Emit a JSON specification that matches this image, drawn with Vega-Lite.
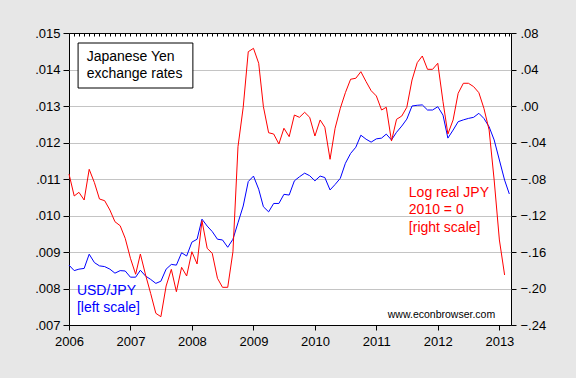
{
  "$schema": "https://vega.github.io/schema/vega-lite/v6.json",
  "width": 442,
  "height": 292,
  "autosize": {"type": "none"},
  "padding": {"left": 69, "top": 33, "right": 65, "bottom": 53},
  "background": "#e7e7e7",
  "config": {
    "view": {"fill": "white", "stroke": "black", "strokeWidth": 1},
    "axis": {"labelFont": "Liberation Sans", "labelFontSize": 13, "labelColor": "#000", "tickColor": "#000", "title": null}
  },
  "data": {
    "values": [
      {"date": "2006/01/01", "usd": 0.00864, "jpy": -0.0745},
      {"date": "2006/02/01", "usd": 0.00849, "jpy": -0.0986},
      {"date": "2006/03/01", "usd": 0.00853, "jpy": -0.0946},
      {"date": "2006/04/01", "usd": 0.00855, "jpy": -0.103},
      {"date": "2006/05/01", "usd": 0.00894, "jpy": -0.0694},
      {"date": "2006/06/01", "usd": 0.00871, "jpy": -0.084},
      {"date": "2006/07/01", "usd": 0.00862, "jpy": -0.1019},
      {"date": "2006/08/01", "usd": 0.0086, "jpy": -0.1038},
      {"date": "2006/09/01", "usd": 0.00853, "jpy": -0.114},
      {"date": "2006/10/01", "usd": 0.00842, "jpy": -0.1268},
      {"date": "2006/11/01", "usd": 0.00849, "jpy": -0.1312},
      {"date": "2006/12/01", "usd": 0.00848, "jpy": -0.145},
      {"date": "2007/01/01", "usd": 0.00831, "jpy": -0.1669},
      {"date": "2007/02/01", "usd": 0.00831, "jpy": -0.1844},
      {"date": "2007/03/01", "usd": 0.0085, "jpy": -0.1622},
      {"date": "2007/04/01", "usd": 0.00834, "jpy": -0.1852},
      {"date": "2007/05/01", "usd": 0.00825, "jpy": -0.2053},
      {"date": "2007/06/01", "usd": 0.00814, "jpy": -0.2272},
      {"date": "2007/07/01", "usd": 0.0082, "jpy": -0.2309},
      {"date": "2007/08/01", "usd": 0.00853, "jpy": -0.1973},
      {"date": "2007/09/01", "usd": 0.00866, "jpy": -0.179},
      {"date": "2007/10/01", "usd": 0.00864, "jpy": -0.2035},
      {"date": "2007/11/01", "usd": 0.00898, "jpy": -0.1768},
      {"date": "2007/12/01", "usd": 0.00889, "jpy": -0.1863},
      {"date": "2008/01/01", "usd": 0.00927, "jpy": -0.1597},
      {"date": "2008/02/01", "usd": 0.00935, "jpy": -0.1731},
      {"date": "2008/03/01", "usd": 0.0099, "jpy": -0.1257},
      {"date": "2008/04/01", "usd": 0.00971, "jpy": -0.156},
      {"date": "2008/05/01", "usd": 0.00956, "jpy": -0.1614},
      {"date": "2008/06/01", "usd": 0.00935, "jpy": -0.1888},
      {"date": "2008/07/01", "usd": 0.00933, "jpy": -0.1987},
      {"date": "2008/08/01", "usd": 0.00913, "jpy": -0.1987},
      {"date": "2008/09/01", "usd": 0.00935, "jpy": -0.1597},
      {"date": "2008/10/01", "usd": 0.0098, "jpy": -0.0446},
      {"date": "2008/11/01", "usd": 0.01026, "jpy": -0.0014},
      {"date": "2008/12/01", "usd": 0.01093, "jpy": 0.0595},
      {"date": "2009/01/01", "usd": 0.01108, "jpy": 0.0632},
      {"date": "2009/02/01", "usd": 0.01072, "jpy": 0.0468},
      {"date": "2009/03/01", "usd": 0.01024, "jpy": -0.0007},
      {"date": "2009/04/01", "usd": 0.0101, "jpy": -0.0293},
      {"date": "2009/05/01", "usd": 0.01033, "jpy": -0.0307},
      {"date": "2009/06/01", "usd": 0.01033, "jpy": -0.0416},
      {"date": "2009/07/01", "usd": 0.01058, "jpy": -0.0244},
      {"date": "2009/08/01", "usd": 0.01056, "jpy": -0.0336},
      {"date": "2009/09/01", "usd": 0.01095, "jpy": -0.0099},
      {"date": "2009/10/01", "usd": 0.01106, "jpy": -0.0124},
      {"date": "2009/11/01", "usd": 0.01116, "jpy": -0.0069},
      {"date": "2009/12/01", "usd": 0.01109, "jpy": -0.0124},
      {"date": "2010/01/01", "usd": 0.01095, "jpy": -0.0329},
      {"date": "2010/02/01", "usd": 0.01108, "jpy": -0.0153},
      {"date": "2010/03/01", "usd": 0.01104, "jpy": -0.0233},
      {"date": "2010/04/01", "usd": 0.0107, "jpy": -0.0584},
      {"date": "2010/05/01", "usd": 0.01085, "jpy": -0.0244},
      {"date": "2010/06/01", "usd": 0.01102, "jpy": -0.0025},
      {"date": "2010/07/01", "usd": 0.01143, "jpy": 0.0146},
      {"date": "2010/08/01", "usd": 0.0117, "jpy": 0.0293},
      {"date": "2010/09/01", "usd": 0.01187, "jpy": 0.0304},
      {"date": "2010/10/01", "usd": 0.0122, "jpy": 0.0376},
      {"date": "2010/11/01", "usd": 0.01209, "jpy": 0.0267},
      {"date": "2010/12/01", "usd": 0.01201, "jpy": 0.0168},
      {"date": "2011/01/01", "usd": 0.0121, "jpy": 0.011},
      {"date": "2011/02/01", "usd": 0.01212, "jpy": -0.0044},
      {"date": "2011/03/01", "usd": 0.01223, "jpy": -0.0014},
      {"date": "2011/04/01", "usd": 0.01207, "jpy": -0.0384},
      {"date": "2011/05/01", "usd": 0.01228, "jpy": -0.0146},
      {"date": "2011/06/01", "usd": 0.01245, "jpy": -0.011},
      {"date": "2011/07/01", "usd": 0.01264, "jpy": -0.0014},
      {"date": "2011/08/01", "usd": 0.013, "jpy": 0.0285},
      {"date": "2011/09/01", "usd": 0.01302, "jpy": 0.0475},
      {"date": "2011/10/01", "usd": 0.01303, "jpy": 0.0548},
      {"date": "2011/11/01", "usd": 0.01289, "jpy": 0.0402},
      {"date": "2011/12/01", "usd": 0.01289, "jpy": 0.0402},
      {"date": "2012/01/01", "usd": 0.01298, "jpy": 0.0468},
      {"date": "2012/02/01", "usd": 0.01275, "jpy": 0.0047},
      {"date": "2012/03/01", "usd": 0.01212, "jpy": -0.0307},
      {"date": "2012/04/01", "usd": 0.01234, "jpy": -0.0153},
      {"date": "2012/05/01", "usd": 0.01257, "jpy": 0.0139},
      {"date": "2012/06/01", "usd": 0.01262, "jpy": 0.0249},
      {"date": "2012/07/01", "usd": 0.01266, "jpy": 0.0249},
      {"date": "2012/08/01", "usd": 0.01269, "jpy": 0.0212},
      {"date": "2012/09/01", "usd": 0.0128, "jpy": 0.0146},
      {"date": "2012/10/01", "usd": 0.01266, "jpy": -0.0025},
      {"date": "2012/11/01", "usd": 0.01243, "jpy": -0.0263},
      {"date": "2012/12/01", "usd": 0.01207, "jpy": -0.0811},
      {"date": "2013/01/01", "usd": 0.01152, "jpy": -0.1468},
      {"date": "2013/02/01", "usd": 0.01097, "jpy": -0.1852},
      {"date": "2013/03/01", "usd": 0.01059, "jpy": null}
    ]
  },
  "layer": [
    {
      "mark": {"type": "line", "color": "#0000ff", "strokeWidth": 1},
      "encoding": {
        "x": {
          "field": "date", "type": "temporal",
          "scale": {"domain": [{"year": 2006, "month": 1, "date": 1}, {"year": 2013, "month": 3, "date": 11}]},
          "axis": {
            "values": [
              {"year": 2006, "month": 1, "date": 1}, {"year": 2007, "month": 1, "date": 1},
              {"year": 2008, "month": 1, "date": 1}, {"year": 2009, "month": 1, "date": 1},
              {"year": 2010, "month": 1, "date": 1}, {"year": 2011, "month": 1, "date": 1},
              {"year": 2012, "month": 1, "date": 1}, {"year": 2013, "month": 1, "date": 1}
            ],
            "format": "%Y", "tickSize": 5, "labelPadding": 5, "labelFlush": false,
            "grid": false, "domain": false, "labelOverlap": false
          }
        },
        "y": {
          "field": "usd", "type": "quantitative",
          "scale": {"domain": [0.007, 0.015], "zero": false, "nice": false},
          "axis": {
            "orient": "left",
            "values": [0.007, 0.008, 0.009, 0.01, 0.011, 0.012, 0.013, 0.014, 0.015],
            "labelExpr": "replace(format(datum.value, '.3f'), '0.', '.')",
            "tickSize": 6, "labelPadding": 3, "domain": false, "labelOverlap": false,
            "grid": true, "gridColor": "#c4c4c4", "gridWidth": 1,
            "gridOpacity": {"condition": {"test": "datum.value < 0.00705 || datum.value > 0.01495", "value": 0}, "value": 1}
          }
        }
      }
    },
    {
      "mark": {"type": "line", "color": "#ff0000", "strokeWidth": 1},
      "encoding": {
        "x": {
          "field": "date", "type": "temporal",
          "axis": {
            "tickCount": {"interval": "month", "step": 1},
            "labels": false, "tickSize": -3, "domain": false, "grid": false
          }
        },
        "y": {
          "field": "jpy", "type": "quantitative",
          "scale": {"domain": [-0.24, 0.08], "zero": false, "nice": false},
          "axis": {
            "orient": "right",
            "values": [-0.24, -0.2, -0.16, -0.12, -0.08, -0.04, 0, 0.04, 0.08],
            "labelExpr": "replace(format(datum.value, '.2f'), '0.', '.')",
            "tickSize": 5, "labelPadding": 4, "domain": false, "grid": false, "labelOverlap": false
          }
        }
      }
    },
    {
      "data": {"values": [{}]},
      "mark": {"type": "rect", "fill": "white", "stroke": "black", "strokeWidth": 1},
      "encoding": {
        "x": {"datum": {"year": 2006, "month": 2, "date": 24}, "type": "temporal", "axis": null},
        "x2": {"datum": {"year": 2008, "month": 1, "date": 7}},
        "y": {"datum": 0.014726, "type": "quantitative", "scale": {"domain": [0.007, 0.015], "zero": false, "nice": false}, "axis": null},
        "y2": {"datum": 0.013493}
      }
    },
    {
      "data": {"values": [{}]},
      "mark": {"type": "text", "align": "left", "baseline": "alphabetic", "font": "Liberation Sans", "fontSize": 14, "lineHeight": 17.3, "color": "#000"},
      "encoding": {
        "x": {"datum": {"year": 2006, "month": 4, "date": 16}, "type": "temporal", "axis": null},
        "y": {"datum": 0.014241, "type": "quantitative", "scale": {"domain": [0.007, 0.015], "zero": false, "nice": false}, "axis": null},
        "text": {"value": ["Japanese Yen", "exchange rates"]}
      }
    },
    {
      "data": {"values": [{}]},
      "mark": {"type": "text", "align": "left", "baseline": "alphabetic", "font": "Liberation Sans", "fontSize": 14, "lineHeight": 16.7, "color": "#0000ff"},
      "encoding": {
        "x": {"datum": {"year": 2006, "month": 2, "date": 17}, "type": "temporal", "axis": null},
        "y": {"datum": 0.007822, "type": "quantitative", "scale": {"domain": [0.007, 0.015], "zero": false, "nice": false}, "axis": null},
        "text": {"value": ["USD/JPY", "[left scale]"]}
      }
    },
    {
      "data": {"values": [{}]},
      "mark": {"type": "text", "align": "left", "baseline": "alphabetic", "font": "Liberation Sans", "fontSize": 14, "lineHeight": 17.5, "color": "#ff0000"},
      "encoding": {
        "x": {"datum": {"year": 2011, "month": 7, "date": 13}, "type": "temporal", "axis": null},
        "y": {"datum": 0.010515, "type": "quantitative", "scale": {"domain": [0.007, 0.015], "zero": false, "nice": false}, "axis": null},
        "text": {"value": ["Log real JPY", "2010 = 0", "[right scale]"]}
      }
    },
    {
      "data": {"values": [{}]},
      "mark": {"type": "text", "align": "left", "baseline": "alphabetic", "font": "Liberation Sans", "fontSize": 10.5, "color": "#000"},
      "encoding": {
        "x": {"datum": {"year": 2011, "month": 3, "date": 10}, "type": "temporal", "axis": null},
        "y": {"datum": 0.0072, "type": "quantitative", "scale": {"domain": [0.007, 0.015], "zero": false, "nice": false}, "axis": null},
        "text": {"value": "www.econbrowser.com"}
      }
    }
  ],
  "resolve": {"scale": {"y": "independent"}, "axis": {"y": "independent", "x": "independent"}}
}
